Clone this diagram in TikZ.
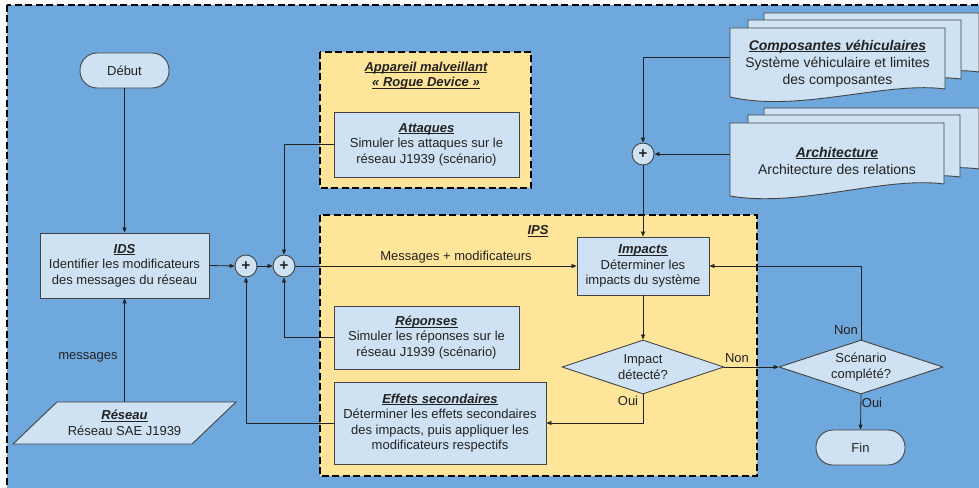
\documentclass[tikz,border=0pt]{standalone}
\usepackage{fontspec}
\setmainfont{Liberation Sans}
\usetikzlibrary{shapes.geometric,arrows.meta}
\definecolor{bgblue}{HTML}{6FA8DC}
\definecolor{ylw}{HTML}{FFE599}
\definecolor{nodefill}{HTML}{CFE2F3}
\definecolor{edgec}{HTML}{434343}
\definecolor{ink}{HTML}{222222}
\newsavebox{\ttlbox}
\newcommand{\ttl}[1]{\sbox{\ttlbox}{\bfseries\itshape #1}\leavevmode\rlap{\rule[-2.3pt]{\wd\ttlbox}{1pt}}\usebox{\ttlbox}}
\begin{document}
\begin{tikzpicture}[x=1pt,y=-1pt,
  font=\fontsize{13}{15.5}\selectfont, text=ink,
  box/.style={draw=edgec, line width=0.9pt, fill=nodefill, align=center, inner sep=0pt},
  term/.style={box, rounded corners=17pt, minimum width=89pt, minimum height=35pt},
  plus/.style={circle, draw=edgec, line width=0.9pt, fill=nodefill, minimum size=22pt, inner sep=0pt, font=\fontsize{15}{15}\selectfont\bfseries},
  dec/.style={diamond, draw=edgec, line width=0.9pt, fill=nodefill, align=center, inner sep=0pt, aspect=3},
  grp/.style={draw=black, line width=1.6pt, dash pattern=on 7pt off 3.5pt, fill=ylw},
  arr/.style={draw=ink, line width=0.8pt, -{Triangle[length=5pt,width=4pt]}},
  lbl/.style={inner sep=1pt},
  docf/.style={draw=edgec, line width=0.9pt, fill=nodefill},
  doctext/.style={align=center, inner sep=0pt, font=\fontsize{14}{17}\selectfont},
]
\useasboundingbox (0,0) rectangle (979,487);
\clip (0,0) rectangle (979,487);
\fill[white] (0,0) rectangle (979,487);
\draw[grp, fill=bgblue] (7,5) rectangle (995,505);

% groups
\draw[grp] (320,52) rectangle (531,188);
\node[align=center, inner sep=0pt] (roguet) at (426,75.5) {\ttl{Appareil malveillant}\\\ttl{« Rogue Device »}};
\draw[grp] (320,215) rectangle (757,476);
\node[inner sep=0pt] (ipst) at (538,231) {\ttl{IPS}};

% documents: composantes
\draw[docf] (764,13) -- (979,13) -- (979,72) .. controls (919,64) and (834,94) .. (764,80) -- cycle;
\draw[docf] (748,20) -- (961,20) -- (961,79) .. controls (901,71) and (818,101) .. (748,87) -- cycle;
\draw[docf] (730,28) -- (945,28) -- (945,89) .. controls (885,81) and (800,113) .. (730,97) -- cycle;
\node[doctext, minimum width=215pt] (comp) at (837.5,63.5) {\ttl{Composantes véhiculaires}\\Système véhiculaire et limites\\des composantes};
% documents: architecture
\draw[docf] (764,108) -- (979,108) -- (979,169) .. controls (919,161) and (834,191) .. (764,177) -- cycle;
\draw[docf] (748,115) -- (960,115) -- (960,177) .. controls (900,169) and (818,199) .. (748,185) -- cycle;
\draw[docf] (730,123) -- (944,123) -- (944,184) .. controls (884,176) and (800,208) .. (730,196) -- cycle;
\node[doctext, minimum width=214pt] (arch) at (837,160.5) {\ttl{Architecture}\\Architecture des relations};

% nodes
\node[term] (debut) at (124.5,70.5) {Début};
\node[box, minimum width=169pt, minimum height=65pt] (ids) at (124.5,265.5) {\ttl{IDS}\\Identifier les modificateurs\\des messages du réseau};
\draw[docf] (57,402) -- (236,402) -- (192,444) -- (13,444) -- cycle;
\node[align=center, inner sep=0pt, minimum width=130pt, minimum height=42pt] (reseau) at (124.5,423) {\ttl{Réseau}\\Réseau SAE J1939};
\node[plus] (p1) at (246,266) {+};
\node[plus] (p2) at (284,266) {+};
\node[plus] (p3) at (643,154) {+};
\node[box, minimum width=185pt, minimum height=65pt] (att) at (426.5,144.5) {\ttl{Attaques}\\Simuler les attaques sur le\\réseau J1939 (scénario)};
\node[box, minimum width=185pt, minimum height=63pt] (rep) at (426.5,337.5) {\ttl{Réponses}\\Simuler les réponses sur le\\réseau J1939 (scénario)};
\node[box, minimum width=212pt, minimum height=82pt] (eff) at (440,423) {\ttl{Effets secondaires}\\Déterminer les effets secondaires\\des impacts, puis appliquer les\\modificateurs respectifs};
\node[box, minimum width=132pt, minimum height=58pt] (imp) at (643,266) {\ttl{Impacts}\\Déterminer les\\impacts du système};
\node[dec, minimum width=162pt, minimum height=54pt] (d1) at (643,367) {Impact\\détecté?};
\node[dec, minimum width=164pt, minimum height=54pt] (d2) at (861,367) {Scénario\\complété?};
\node[term] (fin) at (860.5,447.5) {Fin};

% connectors
\draw[arr] (debut) -- (ids);
\draw[arr] (reseau.north) -- (ids.south);
\node[lbl] (msgl) at (88,357) {messages};
\draw[arr] (ids.east) -- (p1.west);
\draw[arr] (p1.east) -- (p2.west);
\draw[arr] (p2.east) -- (imp.west);
\node[lbl] (mml) at (456,257) {Messages + modificateurs};
\draw[arr] (att.west) -| (p2.north);
\draw[arr] (rep.west) -| (p2.south);
\draw[arr] (eff.west) -| (p1.south);
\draw[arr] ([yshift=6.5pt]comp.west) -| (p3.north);
\draw[arr] ([yshift=6.5pt]arch.west) -- (p3.east);
\draw[arr] (p3.south) -- (imp.north);
\draw[arr] (imp.south) -- (d1.north);
\draw[arr] (d1.south) |- (eff.east);
\node[lbl] (oui1) at (628,401) {Oui};
\draw[arr] (d1.east) -- (d2.west);
\node[lbl] (non1) at (737,358) {Non};
\draw[arr] (d2.north) |- (imp.east);
\node[lbl] (non2) at (846,330) {Non};
\draw[arr] (d2.south) -- (fin.north);
\node[lbl] (oui2) at (872,403) {Oui};
\end{tikzpicture}
\end{document}
